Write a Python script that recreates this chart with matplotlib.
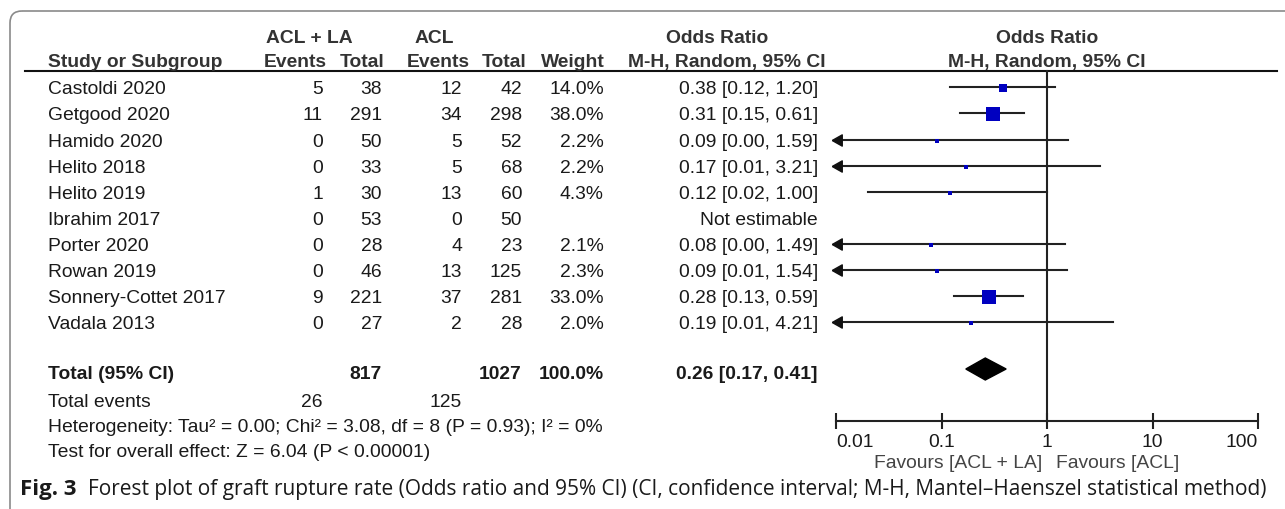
import numpy as np
import matplotlib.pyplot as plt
from matplotlib.patches import FancyBboxPatch, Polygon

plt.rcParams["font.family"] = ["Liberation Sans", "DejaVu Sans"]

# --- data ---
studies = ["Castoldi 2020", "Getgood 2020", "Hamido 2020", "Helito 2018", "Helito 2019",
           "Ibrahim 2017", "Porter 2020", "Rowan 2019", "Sonnery-Cottet 2017", "Vadala 2013"]
ev_la = [5, 11, 0, 0, 1, 0, 0, 0, 9, 0]
tot_la = [38, 291, 50, 33, 30, 53, 28, 46, 221, 27]
ev_acl = [12, 34, 5, 5, 13, 0, 4, 13, 37, 2]
tot_acl = [42, 298, 52, 68, 60, 50, 23, 125, 281, 28]
weight = [14.0, 38.0, 2.2, 2.2, 4.3, None, 2.1, 2.3, 33.0, 2.0]
or_est = [0.38, 0.31, 0.09, 0.17, 0.12, None, 0.08, 0.09, 0.28, 0.19]
ci_lo = [0.12, 0.15, 0.00, 0.01, 0.02, None, 0.00, 0.01, 0.13, 0.01]
ci_hi = [1.20, 0.61, 1.59, 3.21, 1.00, None, 1.49, 1.54, 0.59, 4.21]

total_la, total_acl = 817, 1027
events_la, events_acl = 26, 125
pooled = (0.26, 0.17, 0.41)
xticks = [0.01, 0.1, 1, 10, 100]
xtick_labels = ["0.01", "0.1", "1", "10", "100"]

W, H = 1285, 510
fig = plt.figure(figsize=(W / 100, H / 100), dpi=100)
ax = fig.add_axes([0, 0, 1, 1])
ax.set_xlim(0, W)
ax.set_ylim(H, 0)
ax.axis("off")

# rounded frame (runs off right and bottom edge)
ax.add_patch(FancyBboxPatch((10, 12), 1320, 540, boxstyle="round,pad=0,rounding_size=12",
                            fc="none", ec="#8a8a8a", lw=1.2))

txt = "#1a1a1a"
fs = 13.9
row_y = [88, 114, 141, 167, 193, 219, 245, 271, 297, 323]
tdy = 1.5  # text sits a bit lower than the marks' row centre

# header
hd = dict(fontsize=fs, fontweight="bold", color="#333333", va="center")
ax.text(309, 37 + tdy, "ACL + LA", ha="center", **hd)
ax.text(434, 37 + tdy, "ACL", ha="center", **hd)
ax.text(717, 37 + tdy, "Odds Ratio", ha="center", **hd)
ax.text(1047, 37 + tdy, "Odds Ratio", ha="center", **hd)
ax.text(48, 61 + tdy, "Study or Subgroup", ha="left", **hd)
for x, s in [(327, "Events"), (384, "Total"), (470, "Events"), (526, "Total"), (605, "Weight")]:
    ax.text(x, 61 + tdy, s, ha="right", **hd)
ax.text(727, 61 + tdy, "M-H, Random, 95% CI", ha="center", **hd)
ax.text(1047, 61 + tdy, "M-H, Random, 95% CI", ha="center", **hd)
ax.plot([25, 1277], [72, 72], color="#111111", lw=1.5)

# study rows
for i, y in enumerate(row_y):
    kw = dict(fontsize=fs, color=txt, va="center")
    yt = y + tdy
    ax.text(48, yt, studies[i], ha="left", **kw)
    ax.text(323, yt, str(ev_la[i]), ha="right", **kw)
    ax.text(382, yt, str(tot_la[i]), ha="right", **kw)
    ax.text(462, yt, str(ev_acl[i]), ha="right", **kw)
    ax.text(522, yt, str(tot_acl[i]), ha="right", **kw)
    if weight[i] is not None:
        ax.text(604, yt, f"{weight[i]:.1f}%", ha="right", **kw)
        ax.text(818, yt, f"{or_est[i]:.2f} [{ci_lo[i]:.2f}, {ci_hi[i]:.2f}]", ha="right", **kw)
    else:
        ax.text(818, yt, "Not estimable", ha="right", **kw)

# totals
bk = dict(fontsize=fs, fontweight="bold", color=txt, va="center")
ax.text(48, 373 + tdy, "Total (95% CI)", ha="left", **bk)
ax.text(382, 373 + tdy, str(total_la), ha="right", **bk)
ax.text(522, 373 + tdy, str(total_acl), ha="right", **bk)
ax.text(604, 373 + tdy, "100.0%", ha="right", **bk)
ax.text(818, 373 + tdy, f"{pooled[0]:.2f} [{pooled[1]:.2f}, {pooled[2]:.2f}]", ha="right", **bk)

rg = dict(fontsize=fs, color=txt, va="center")
ax.text(48, 401 + tdy, "Total events", ha="left", **rg)
ax.text(323, 401 + tdy, str(events_la), ha="right", **rg)
ax.text(462, 401 + tdy, str(events_acl), ha="right", **rg)
ax.text(48, 426 + tdy, "Heterogeneity: Tau² = 0.00; Chi² = 3.08, df = 8 (P = 0.93); I² = 0%",
        ha="left", **rg)
ax.text(48, 451 + tdy, "Test for overall effect: Z = 6.04 (P < 0.00001)", ha="left", **rg)

# caption
ax.text(20, 490, "Fig. 3", ha="left", va="center", fontsize=16, fontweight="bold",
        family=["Open Sans", "DejaVu Sans"], color="#1a1a1a")
ax.text(88, 490, "Forest plot of graft rupture rate (Odds ratio and 95% CI) (CI, confidence interval; "
        "M-H, Mantel\u2013Haenszel statistical method)", ha="left", va="center", fontsize=15,
        family=["Open Sans", "DejaVu Sans"], color="#1a1a1a")

# --- forest panel ---
x0, x1, ytop, ybot = 836, 1258, 78, 422
axf = fig.add_axes([x0 / W, (H - ybot) / H, (x1 - x0) / W, (ybot - ytop) / H])
axf.set_xscale("log")
axf.set_xlim(0.01, 100)
axf.set_ylim(ybot, ytop)
axf.patch.set_alpha(0)
for s in ["top", "left", "right"]:
    axf.spines[s].set_visible(False)
axf.spines["bottom"].set_linewidth(1.5)
axf.spines["bottom"].set_color("#222222")
axf.set_yticks([])
axf.set_xticks(xticks)
axf.set_xticklabels(xtick_labels, fontsize=fs, color=txt)
axf.minorticks_off()
axf.tick_params(axis="x", direction="inout", length=11, width=1.5, color="#222222", pad=3.5)
tl = axf.get_xticklabels()
tl[0].set_ha("left")
tl[-1].set_ha("right")

axf.plot([1, 1], [ytop - 6, ybot], color="#222222", lw=1.5, clip_on=False)

arrow = [(-1, 0), (0.6, 0.9), (0.6, -0.9), (-1, 0)]
for i, y in enumerate(row_y):
    if or_est[i] is None:
        continue
    lo = max(ci_lo[i], 0.01)
    axf.plot([lo, ci_hi[i]], [y, y], color="#222222", lw=1.5, zorder=2)
    if ci_lo[i] < 0.015:
        axf.plot([0.0105], [y], marker=arrow, ms=9, color="#111111", zorder=3, clip_on=False)
    side = max(4.0, 2.3 * np.sqrt(weight[i]))
    axf.plot([or_est[i]], [y + 1], marker="s", ms=side * 0.72, color="#0000c0",
             mec="#0000c0", mew=0, zorder=4)

d_y = 370
axf.add_patch(Polygon([(pooled[1], d_y), (pooled[0], d_y - 11), (pooled[2], d_y),
                       (pooled[0], d_y + 11)], closed=True, fc="black", ec="black"))

ax.text(1042, 464, "Favours [ACL + LA]", ha="right", va="center", fontsize=fs, color="#444444")
ax.text(1056, 464, "Favours [ACL]", ha="left", va="center", fontsize=fs, color="#444444")

fig.savefig("out.png", dpi=100)
